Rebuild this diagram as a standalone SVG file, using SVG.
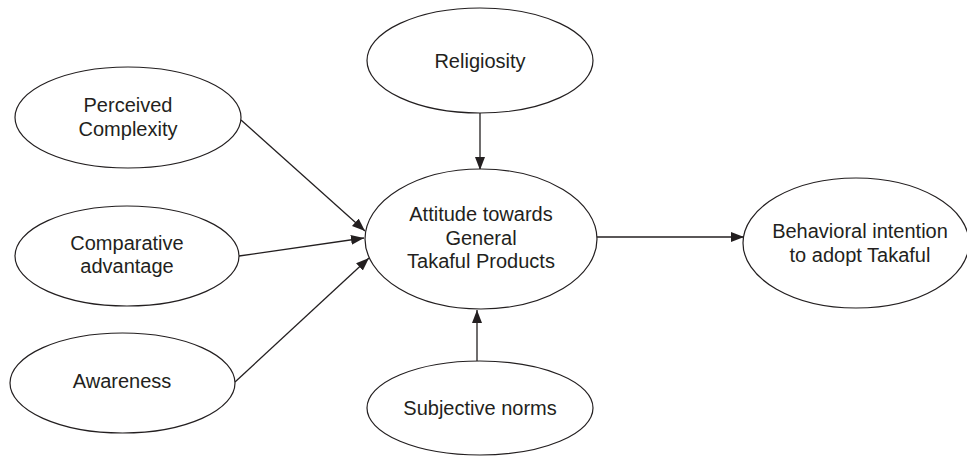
<svg xmlns="http://www.w3.org/2000/svg" width="967" height="459" viewBox="0 0 967 459">
<style>
.node ellipse{fill:#fff;stroke:#231f20;stroke-width:1.2}
.node text{font-family:"Liberation Sans",Arial,sans-serif;font-size:20px;fill:#231f20;text-anchor:middle}
.edge{stroke:#231f20;stroke-width:1.3;fill:none;marker-end:url(#arr)}
</style>
<defs>
<marker id="arr" markerUnits="userSpaceOnUse" markerWidth="14" markerHeight="12" refX="13" refY="5" orient="auto">
<path d="M0,0 L13,5 L0,10 z" fill="#231f20"/>
</marker>
</defs>
<rect width="967" height="459" fill="#fff"/>
<g id="connectors">
<line class="edge" x1="241" y1="120" x2="365" y2="231"/>
<line class="edge" x1="239" y1="256" x2="364" y2="238"/>
<line class="edge" x1="235" y1="382" x2="369" y2="258"/>
<line class="edge" x1="480" y1="113" x2="480" y2="170"/>
<line class="edge" x1="477" y1="361" x2="477" y2="310"/>
<line class="edge" x1="597" y1="237" x2="744" y2="237"/>
</g>
<g id="perceived-complexity" class="node">
<ellipse cx="128" cy="117.5" rx="113" ry="50.5"/>
<text x="128" y="112">Perceived</text>
<text x="128" y="136">Complexity</text>
</g>
<g id="comparative-advantage" class="node">
<ellipse cx="127" cy="256" rx="112" ry="50"/>
<text x="127" y="250">Comparative</text>
<text x="127" y="273">advantage</text>
</g>
<g id="awareness" class="node">
<ellipse cx="122.5" cy="383" rx="112.5" ry="50"/>
<text x="122" y="388">Awareness</text>
</g>
<g id="religiosity" class="node">
<ellipse cx="480" cy="60.5" rx="113" ry="52.5"/>
<text x="480" y="68">Religiosity</text>
</g>
<g id="attitude" class="node">
<ellipse cx="481" cy="239" rx="116" ry="70"/>
<text x="481" y="221">Attitude towards</text>
<text x="481" y="245">General</text>
<text x="481" y="268">Takaful Products</text>
</g>
<g id="subjective-norms" class="node">
<ellipse cx="480" cy="408" rx="113" ry="47"/>
<text x="480" y="415">Subjective norms</text>
</g>
<g id="behavioral-intention" class="node">
<ellipse cx="856" cy="243" rx="113" ry="65"/>
<text x="860" y="238">Behavioral intention</text>
<text x="860" y="262">to adopt Takaful</text>
</g>
</svg>
